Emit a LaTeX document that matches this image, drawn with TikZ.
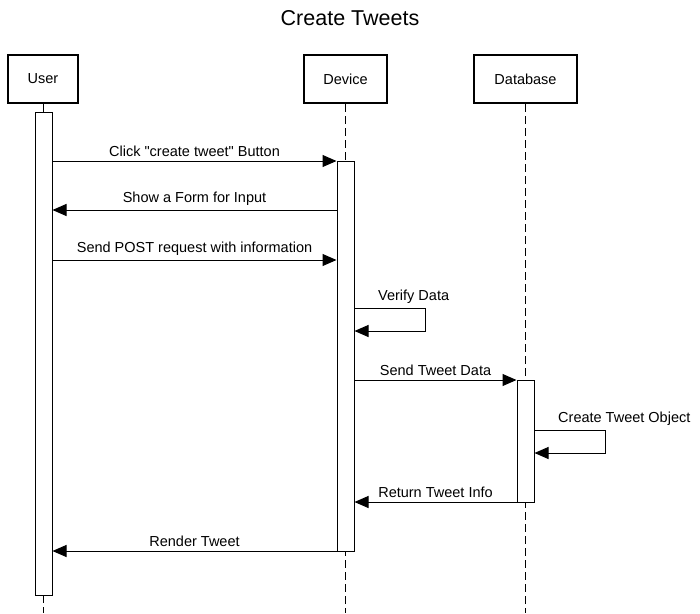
\documentclass[tikz,border=0pt]{standalone}
\usepackage{fontspec}
\setmainfont{Liberation Sans}
\usetikzlibrary{arrows.meta}

\tikzset{
    actor/.style={draw, line width=2pt, minimum height=48pt, inner sep=0pt, font=\fontsize{14.5}{16}\selectfont},
    bar/.style={draw, fill=white, line width=1pt, minimum width=17pt, inner sep=0pt},
    life/.style={line width=1pt, dash pattern=on 8pt off 4pt},
    msg/.style={line width=1pt, -{Triangle[length=14pt,width=12pt]}},
    lbl/.style={font=\fontsize{14.5}{16}\selectfont, inner sep=0pt}
}

\begin{document}
\begin{tikzpicture}[x=1pt, y=-1pt]
                \useasboundingbox (0,0) rectangle (700,613);
                \node[font=\fontsize{21.5}{24}\selectfont] (title) at (350,18) {Create Tweets};

                % participants
                \node[actor, minimum width=70pt] (user) at (43,79) {User};
                \node[actor, minimum width=83pt] (device) at (345.5,79) {Device};
                \node[actor, minimum width=103pt] (db) at (525.5,79) {Database};

                % lifelines
                \draw[line width=1pt] (user.south) -- (43,112);
                \draw[life] (43,595) -- (43,613);
                \draw[life] (device.south) -- (345.5,613);
                \draw[life] (db.south) -- (525.5,613);

                % activations
                \node[bar, minimum height=483pt] (ubar) at (43.5,353.5) {};
                \node[bar, minimum height=390pt] (dbar) at (345.5,356) {};
                \node[bar, minimum height=122pt] (bbar) at (525.5,441) {};

                % messages
                \draw[msg] (ubar.east |- 0,161) -- node[lbl, above=4pt] {Click \textquotedbl create tweet\textquotedbl{} Button} (dbar.west |- 0,161);
                \draw[msg] (dbar.west |- 0,210) -- node[lbl, above=4pt] {Show a Form for Input} (ubar.east |- 0,210);
                \draw[msg] (ubar.east |- 0,260) -- node[lbl, above=4pt] {Send POST request with information} (dbar.west |- 0,260);
                \draw[msg] (dbar.east |- 0,308) -- (425,308) -- (425,331) -- (dbar.east |- 0,331);
                \node[lbl, anchor=south west] (verify) at (378,304) {Verify Data};
                \draw[msg] (dbar.east |- 0,380) -- node[lbl, above=4pt] {Send Tweet Data} (bbar.west |- 0,380);
                \draw[msg] (bbar.east |- 0,430) -- (605,430) -- (605,453) -- (bbar.east |- 0,453);
                \node[lbl, anchor=south west] (create) at (558,426) {Create Tweet Object};
                \draw[msg] (bbar.west |- 0,502) -- node[lbl, above=4pt] {Return Tweet Info} (dbar.east |- 0,502);
                \draw[msg] (dbar.west |- 0,551) -- node[lbl, above=4pt] {Render Tweet} (ubar.east |- 0,551);
            \end{tikzpicture}
\end{document}
